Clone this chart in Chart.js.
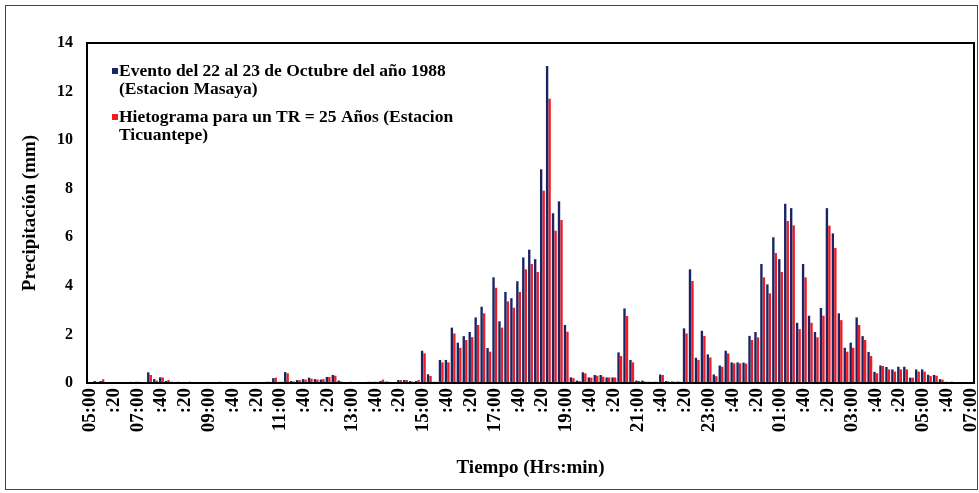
<!DOCTYPE html>
<html>
<head>
<meta charset="utf-8">
<script src="https://cdn.jsdelivr.net/npm/chart.js@4.4.1/dist/chart.umd.min.js"></script>
<style>
  html, body { margin: 0; padding: 0; background: #fff; }
  #wrap { width: 979px; height: 493px; }
</style>
</head>
<body>
<div id="wrap"><canvas id="chart" width="979" height="493"></canvas></div>
<script>
// one label every 4 slots (40 min)
const tickLabels = [
  '05:00', ':20', '07:00', ':40', ':20', '09:00', ':40', ':20', '11:00', ':40', ':20', '13:00',
  ':40', ':20', '15:00', ':40', ':20', '17:00', ':40', ':20', '19:00', ':40', ':20', '21:00',
  ':40', ':20', '23:00', ':40', ':20', '01:00', ':40', ':20', '03:00', ':40', ':20', '05:00',
  ':40', '07:00'
]
const TICK_EVERY = 4

const masaya = [
  0.03, 0.08, 0.08, 0, 0, 0, 0.04, 0.05, 0.05, 0.03,
  0.44, 0.16, 0.23, 0.08, 0.05, 0.05, 0.02, 0.05, 0, 0,
  0.02, 0, 0.05, 0, 0, 0, 0, 0, 0, 0.04,
  0.05, 0.2, 0.05, 0.45, 0.08, 0.12, 0.16, 0.22, 0.16, 0.14,
  0.25, 0.33, 0.1, 0.03, 0.05, 0.03, 0.04, 0.05, 0.05, 0.08,
  0.06, 0.04, 0.12, 0.12, 0.08, 0.08, 1.33, 0.36, 0.05, 0.95,
  0.95, 2.28, 1.66, 1.93, 2.1, 2.7, 3.14, 1.44, 4.35, 2.54,
  3.75, 3.49, 4.19, 5.17, 5.49, 5.1, 8.8, 13.05, 6.99, 7.48,
  2.39, 0.23, 0.1, 0.44, 0.23, 0.33, 0.33, 0.23, 0.23, 1.26,
  3.07, 0.95, 0.1, 0.1, 0.05, 0.05, 0.35, 0.08, 0.06, 0.06,
  2.25, 4.68, 1.04, 2.15, 1.18, 0.35, 0.72, 1.33, 0.85, 0.85,
  0.84, 1.94, 2.1, 4.9, 4.06, 6.0, 5.1, 7.38, 7.2, 2.48,
  4.9, 2.77, 2.1, 3.09, 7.2, 6.16, 2.87, 1.45, 1.66, 2.7,
  1.93, 1.28, 0.46, 0.72, 0.66, 0.56, 0.67, 0.67, 0.22, 0.56,
  0.56, 0.34, 0.33, 0.16, 0.05, 0.05, 0.03, 0, 0
]

const ticuantepe = [
  0.03, 0.05, 0.15, 0, 0, 0, 0.03, 0.04, 0.05, 0.03,
  0.33, 0.1, 0.23, 0.12, 0.03, 0.03, 0.02, 0.03, 0, 0,
  0, 0, 0.03, 0, 0, 0, 0, 0, 0, 0.03,
  0.05, 0.22, 0.05, 0.4, 0.06, 0.12, 0.14, 0.18, 0.14, 0.16,
  0.25, 0.3, 0.06, 0.02, 0.03, 0.02, 0.03, 0.05, 0.05, 0.14,
  0.05, 0.04, 0.12, 0.12, 0.05, 0.12, 1.22, 0.29, 0.05, 0.85,
  0.85, 2.04, 1.45, 1.77, 1.89, 2.39, 2.87, 1.29, 3.92, 2.28,
  3.36, 3.1, 3.75, 4.68, 4.9, 4.57, 7.92, 11.7, 6.27, 6.71,
  2.11, 0.2, 0.08, 0.4, 0.22, 0.3, 0.26, 0.23, 0.23, 1.11,
  2.76, 0.85, 0.08, 0.06, 0.05, 0.05, 0.33, 0.06, 0.05, 0.05,
  2.04, 4.2, 0.95, 1.94, 1.05, 0.28, 0.67, 1.22, 0.81, 0.81,
  0.8, 1.77, 1.88, 4.35, 3.69, 5.35, 4.57, 6.67, 6.49, 2.22,
  4.35, 2.48, 1.88, 2.77, 6.48, 5.56, 2.59, 1.29, 1.45, 2.39,
  1.77, 1.11, 0.4, 0.7, 0.56, 0.47, 0.56, 0.56, 0.22, 0.47,
  0.47, 0.29, 0.3, 0.14, 0.04, 0.04, 0.02, 0, 0
]

const seriesNames = [
  ['Evento del 22 al 23 de Octubre del año 1988', '(Estacion Masaya)'],
  ['Hietograma para un TR = 25 Años (Estacion', 'Ticuantepe)']
]
const seriesColors = ['#1b2463', '#ee1c25']

const categories = masaya.map((v, i) => 'slot ' + i)

const serif = "'Liberation Serif', 'Times New Roman', serif"

const framePlugin = {
    id: 'frame',
    beforeDraw(chart) {
        const {ctx, width, height} = chart
        ctx.save()
        ctx.fillStyle = '#fff'
        ctx.fillRect(0, 0, width, height)
        ctx.strokeStyle = '#444'
        ctx.lineWidth = 1
        ctx.strokeRect(5.5, 5.5, width - 7, height - 9)
        ctx.restore()
    },
    afterDatasetsDraw(chart) {
        const {ctx, chartArea: a} = chart
        ctx.save()
        ctx.strokeStyle = '#000'
        ctx.lineWidth = 2
        ctx.strokeRect(a.left, a.top, a.right - a.left, a.bottom - a.top)
        ctx.restore()
    }
}

// legend with wrapped lines, drawn inside the plot
const legendPlugin = {
    id: 'wrappedLegend',
    afterDraw(chart) {
        const {ctx} = chart
        const x = 112
        const starts = [71, 117]
        const lineGap = 18
        ctx.save()
        ctx.font = 'bold 17.5px ' + serif
        ctx.textBaseline = 'middle'
        seriesNames.forEach((lines, k) => {
            ctx.fillStyle = seriesColors[k]
            ctx.fillRect(x, starts[k] - 3, 6, 6)
            ctx.fillStyle = '#000'
            lines.forEach((line, j) => {
                ctx.fillText(line, x + 7, starts[k] + j * lineGap)
            })
        })
        ctx.restore()
    }
}

new Chart(document.getElementById('chart').getContext('2d'), {
    type: 'bar',
    data: {
        labels: categories,
        datasets: [{
            label: seriesNames[0].join(' '),
            data: masaya,
            backgroundColor: seriesColors[0],
            categoryPercentage: 0.84,
            barPercentage: 0.95
        }, {
            label: seriesNames[1].join(' '),
            data: ticuantepe,
            backgroundColor: seriesColors[1],
            categoryPercentage: 0.84,
            barPercentage: 0.95
        }]
    },
    options: {
        responsive: false,
        animation: false,
        layout: {padding: {top: 43, right: 5, left: 0, bottom: 0}},
        plugins: {
            legend: {display: false},
            tooltip: {enabled: false}
        },
        scales: {
            x: {
                grid: {display: false, drawTicks: false},
                border: {display: false},
                ticks: {
                    autoSkip: false,
                    minRotation: 90,
                    maxRotation: 90,
                    padding: 5,
                    color: '#000',
                    font: {family: serif, weight: 'bold', size: 19},
                    callback: (v, i) => i % TICK_EVERY === 0 ? tickLabels[i / TICK_EVERY] : ''
                },
                title: {
                    display: true,
                    text: 'Tiempo (Hrs:min)',
                    color: '#000',
                    font: {family: serif, weight: 'bold', size: 19},
                    padding: {top: 0, bottom: 14}
                },
                afterFit: s => {
                    s.height = 110
                    s.paddingLeft = 0
                    s.paddingRight = 0
                }
            },
            y: {
                min: 0,
                max: 14,
                grid: {display: false, drawTicks: false},
                border: {display: false},
                ticks: {
                    stepSize: 2,
                    padding: 14,
                    color: '#000',
                    font: {family: serif, weight: 'bold', size: 16}
                },
                title: {
                    display: true,
                    text: 'Precipitación (mm)',
                    color: '#000',
                    font: {family: serif, weight: 'bold', size: 19},
                    padding: {top: 19, bottom: 0}
                },
                afterFit: s => { s.width = 87 }
            }
        }
    },
    plugins: [framePlugin, legendPlugin]
})
</script>
</body>
</html>
